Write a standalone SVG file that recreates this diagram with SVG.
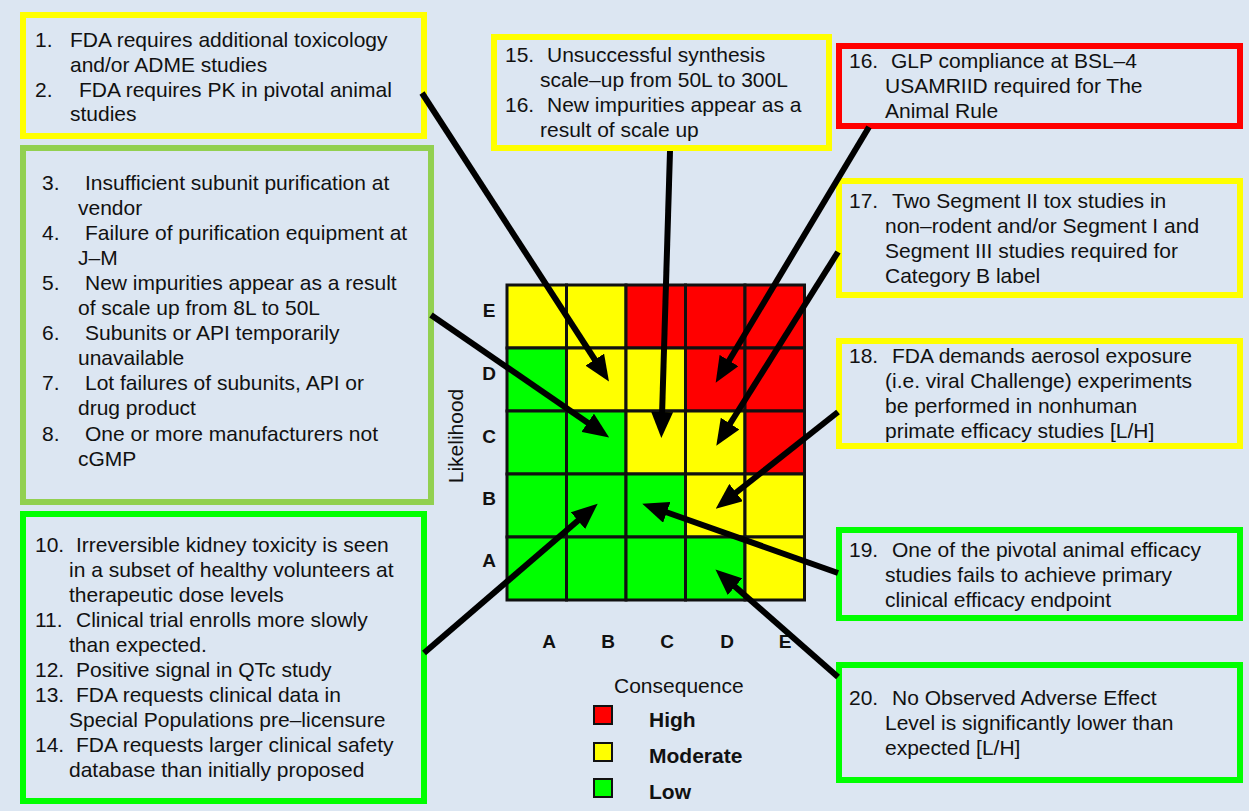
<svg xmlns="http://www.w3.org/2000/svg" width="1249" height="811" viewBox="0 0 1249 811">
  <defs>
    <style>
      .t { font-family: "Liberation Sans", Arial, sans-serif; font-size: 21px; fill: #111; }
      .b { font-family: "Liberation Sans", Arial, sans-serif; font-size: 19px; font-weight: bold; fill: #111; }
      .lg { font-family: "Liberation Sans", Arial, sans-serif; font-size: 21px; font-weight: bold; fill: #111; }
      .box { fill: none; stroke-width: 6; }
      .yel { stroke: #ffff00; }
      .olive { stroke: #92d050; }
      .grn { stroke: #00ff00; }
      .red { stroke: #ff0000; }
      .cell { stroke: #111; stroke-width: 3; }
      .cr { fill: #ff0000; }
      .cy { fill: #ffff00; }
      .cg { fill: #00ff00; }
      .conn line { stroke: #000; stroke-width: 6; marker-end: url(#head); }
      .key { stroke: #111; stroke-width: 2; }
    </style>
    <marker id="head" markerUnits="userSpaceOnUse" markerWidth="26" markerHeight="22" refX="4" refY="11" orient="auto">
      <path d="M0,0 L26,11 L0,22 z" fill="#000"/>
    </marker>
  </defs>

  <rect width="1249" height="811" fill="#dce6f2"/>

  <!-- risk matrix: rows E (top) to A (bottom), columns A to E -->
  <g id="matrix">
    <rect class="cell cy" x="507" y="285" width="59.5" height="63"/>
    <rect class="cell cy" x="566.5" y="285" width="59.5" height="63"/>
    <rect class="cell cr" x="626" y="285" width="59.5" height="63"/>
    <rect class="cell cr" x="685.5" y="285" width="59.5" height="63"/>
    <rect class="cell cr" x="745" y="285" width="59.5" height="63"/>

    <rect class="cell cg" x="507" y="348" width="59.5" height="63"/>
    <rect class="cell cy" x="566.5" y="348" width="59.5" height="63"/>
    <rect class="cell cy" x="626" y="348" width="59.5" height="63"/>
    <rect class="cell cr" x="685.5" y="348" width="59.5" height="63"/>
    <rect class="cell cr" x="745" y="348" width="59.5" height="63"/>

    <rect class="cell cg" x="507" y="411" width="59.5" height="63"/>
    <rect class="cell cg" x="566.5" y="411" width="59.5" height="63"/>
    <rect class="cell cy" x="626" y="411" width="59.5" height="63"/>
    <rect class="cell cy" x="685.5" y="411" width="59.5" height="63"/>
    <rect class="cell cr" x="745" y="411" width="59.5" height="63"/>

    <rect class="cell cg" x="507" y="474" width="59.5" height="63"/>
    <rect class="cell cg" x="566.5" y="474" width="59.5" height="63"/>
    <rect class="cell cg" x="626" y="474" width="59.5" height="63"/>
    <rect class="cell cy" x="685.5" y="474" width="59.5" height="63"/>
    <rect class="cell cy" x="745" y="474" width="59.5" height="63"/>

    <rect class="cell cg" x="507" y="537" width="59.5" height="63"/>
    <rect class="cell cg" x="566.5" y="537" width="59.5" height="63"/>
    <rect class="cell cg" x="626" y="537" width="59.5" height="63"/>
    <rect class="cell cg" x="685.5" y="537" width="59.5" height="63"/>
    <rect class="cell cy" x="745" y="537" width="59.5" height="63"/>

    <g class="b" text-anchor="middle">
      <text x="489" y="317">E</text>
      <text x="489" y="380">D</text>
      <text x="489" y="443">C</text>
      <text x="489" y="505">B</text>
      <text x="489" y="567">A</text>
      <text x="549" y="648">A</text>
      <text x="608" y="648">B</text>
      <text x="667" y="648">C</text>
      <text x="727" y="648">D</text>
      <text x="785" y="648">E</text>
    </g>
    <text class="t" font-size="20" text-anchor="middle" transform="translate(463,436) rotate(-90)">Likelihood</text>
  </g>

  <!-- legend -->
  <g id="legend">
    <text class="t" x="614" y="693">Consequence</text>
    <rect class="key cr" x="594" y="706" width="18" height="18"/>
    <rect class="key cy" x="594" y="743" width="18" height="18"/>
    <rect class="key cg" x="594" y="779" width="18" height="18"/>
    <text class="lg" x="649" y="727">High</text>
    <text class="lg" x="649" y="763">Moderate</text>
    <text class="lg" x="649" y="799">Low</text>
  </g>

  <g id="risk-1-2">
    <rect class="box yel" x="23" y="15" width="401" height="121"/>
    <text class="t" x="35" y="47">1.</text>
    <text class="t" x="70" y="47">FDA requires additional toxicology</text>
    <text class="t" x="70" y="72">and/or ADME studies</text>
    <text class="t" x="35" y="97">2.</text>
    <text class="t" x="79" y="97">FDA requires PK in pivotal animal</text>
    <text class="t" x="70" y="121">studies</text>
  </g>

  <g id="risk-3-8">
    <rect class="box olive" x="23" y="148" width="408" height="354"/>
    <text class="t" x="42" y="190">3.</text>
    <text class="t" x="85" y="190">Insufficient subunit purification at</text>
    <text class="t" x="78" y="215">vendor</text>
    <text class="t" x="42" y="240">4.</text>
    <text class="t" x="85" y="240">Failure of purification equipment at</text>
    <text class="t" x="78" y="265">J–M</text>
    <text class="t" x="42" y="290">5.</text>
    <text class="t" x="85" y="290">New impurities appear as a result</text>
    <text class="t" x="78" y="315">of scale up from 8L to 50L</text>
    <text class="t" x="42" y="340">6.</text>
    <text class="t" x="85" y="340">Subunits or API temporarily</text>
    <text class="t" x="78" y="365">unavailable</text>
    <text class="t" x="42" y="390">7.</text>
    <text class="t" x="85" y="390">Lot failures of subunits, API or</text>
    <text class="t" x="78" y="415">drug product</text>
    <text class="t" x="42" y="441">8.</text>
    <text class="t" x="85" y="441">One or more manufacturers not</text>
    <text class="t" x="78" y="466">cGMP</text>
  </g>

  <g id="risk-10-14">
    <rect class="box grn" x="23" y="514" width="401" height="287"/>
    <text class="t" x="35" y="552">10.</text>
    <text class="t" x="76" y="552">Irreversible kidney toxicity is seen</text>
    <text class="t" x="69" y="577">in a subset of healthy volunteers at</text>
    <text class="t" x="69" y="602">therapeutic dose levels</text>
    <text class="t" x="35" y="627">11.</text>
    <text class="t" x="76" y="627">Clinical trial enrolls more slowly</text>
    <text class="t" x="69" y="652">than expected.</text>
    <text class="t" x="35" y="677">12.</text>
    <text class="t" x="76" y="677">Positive signal in QTc study</text>
    <text class="t" x="35" y="702">13.</text>
    <text class="t" x="76" y="702">FDA requests clinical data in</text>
    <text class="t" x="69" y="727">Special Populations pre–licensure</text>
    <text class="t" x="35" y="752">14.</text>
    <text class="t" x="76" y="752">FDA requests larger clinical safety</text>
    <text class="t" x="69" y="777">database than initially proposed</text>
  </g>

  <g id="risk-15-16">
    <rect class="box yel" x="494" y="37" width="335" height="111"/>
    <text class="t" x="505" y="62">15.</text>
    <text class="t" x="547" y="62">Unsuccessful synthesis</text>
    <text class="t" x="540" y="87">scale–up from 50L to 300L</text>
    <text class="t" x="505" y="112">16.</text>
    <text class="t" x="547" y="112">New impurities appear as a</text>
    <text class="t" x="540" y="137">result of scale up</text>
  </g>

  <g id="risk-16-glp">
    <rect class="box red" x="839" y="46" width="401" height="80"/>
    <text class="t" x="849" y="68">16.</text>
    <text class="t" x="891" y="68">GLP compliance at BSL–4</text>
    <text class="t" x="885" y="93">USAMRIID required for The</text>
    <text class="t" x="885" y="118">Animal Rule</text>
  </g>

  <g id="risk-17">
    <rect class="box yel" x="839" y="181" width="401" height="114"/>
    <text class="t" x="849" y="208">17.</text>
    <text class="t" x="892" y="208">Two Segment II tox studies in</text>
    <text class="t" x="885" y="233">non–rodent and/or Segment I and</text>
    <text class="t" x="885" y="258">Segment III studies required for</text>
    <text class="t" x="885" y="283">Category B label</text>
  </g>

  <g id="risk-18">
    <rect class="box yel" x="839" y="341" width="401" height="105"/>
    <text class="t" x="849" y="363">18.</text>
    <text class="t" x="892" y="363">FDA demands aerosol exposure</text>
    <text class="t" x="885" y="388">(i.e. viral Challenge) experiments</text>
    <text class="t" x="885" y="413">be performed in nonhuman</text>
    <text class="t" x="885" y="438">primate efficacy studies [L/H]</text>
  </g>

  <g id="risk-19">
    <rect class="box grn" x="839" y="530" width="401" height="88"/>
    <text class="t" x="849" y="557">19.</text>
    <text class="t" x="892" y="557">One of the pivotal animal efficacy</text>
    <text class="t" x="885" y="582">studies fails to achieve primary</text>
    <text class="t" x="885" y="607">clinical efficacy endpoint</text>
  </g>

  <g id="risk-20">
    <rect class="box grn" x="839" y="665" width="401" height="115"/>
    <text class="t" x="849" y="705">20.</text>
    <text class="t" x="892" y="705">No Observed Adverse Effect</text>
    <text class="t" x="885" y="730">Level is significantly lower than</text>
    <text class="t" x="885" y="755">expected [L/H]</text>
  </g>

  <!-- connectors: each ends where the arrowhead marker starts -->
  <g id="connectors" class="conn">
    <line x1="422" y1="93" x2="597" y2="363"/>
    <line x1="431" y1="315" x2="591" y2="425"/>
    <line x1="670" y1="151" x2="662" y2="416"/>
    <line x1="869" y1="127" x2="727" y2="364"/>
    <line x1="838" y1="252" x2="728" y2="427"/>
    <line x1="838" y1="412" x2="733" y2="495"/>
    <line x1="838" y1="573" x2="663" y2="511"/>
    <line x1="838" y1="677" x2="732" y2="584"/>
    <line x1="424" y1="653" x2="581" y2="518"/>
  </g>
</svg>
